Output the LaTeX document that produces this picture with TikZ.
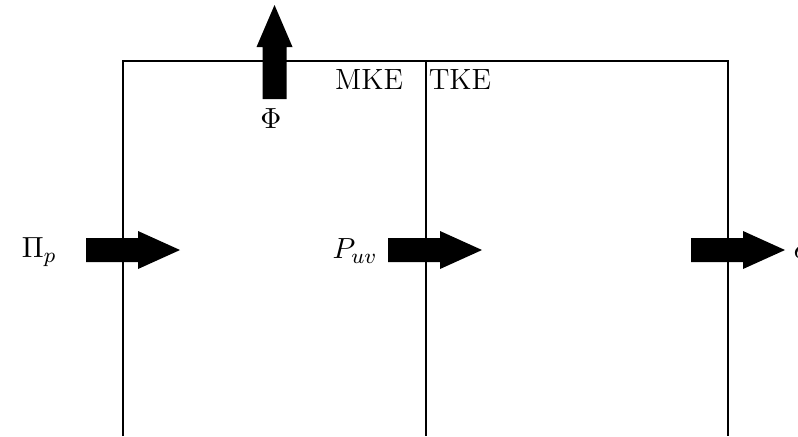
\documentclass[tikz,border=0pt]{standalone}
\begin{document}
\begin{tikzpicture}[x=0.376pt,y=-0.376pt,
  fatarrow/.style={fill=black,draw=none},
  lbl/.style={inner sep=0pt,font=\fontsize{11}{13}\selectfont}]
\useasboundingbox (0,0) rectangle (798,436);
% frame
\coordinate (bl) at (123,436);
\coordinate (tl) at (123,61);
\coordinate (tm) at (426,61);
\coordinate (bm) at (426,436);
\coordinate (tr) at (728,61);
\coordinate (br) at (728,436);
\draw (bl) -- (tl) -- (tr) -- (br);
\draw (tm) -- (bm);
% labels
\node[lbl,anchor=base] (mke) at (369,89) {MKE};
\node[lbl,anchor=base] (tke) at (460,89) {TKE};
% vertical arrow (Phi)
\fill[fatarrow] (262.5,99) -- (262.5,47) -- (256.5,47) -- (274.5,5) -- (292.5,47) -- (286.5,47) -- (286.5,99) -- cycle;
\node[lbl,anchor=north] (phi) at (271,108) {$\Phi$};
% horizontal arrows
\foreach \x in {86,388,691}{
  \fill[fatarrow] (\x,238) -- (\x+52,238) -- (\x+52,231) -- (\x+94,250) -- (\x+52,269) -- (\x+52,262) -- (\x,262) -- cycle;
}
\node[lbl,anchor=east] (pip) at (57,252) {$\Pi_p$};
\node[lbl,anchor=east] (puv) at (378,251) {$P_{uv}$};
\node[lbl,anchor=west] (eps) at (793,252) {$\epsilon$};
\end{tikzpicture}
\end{document}
